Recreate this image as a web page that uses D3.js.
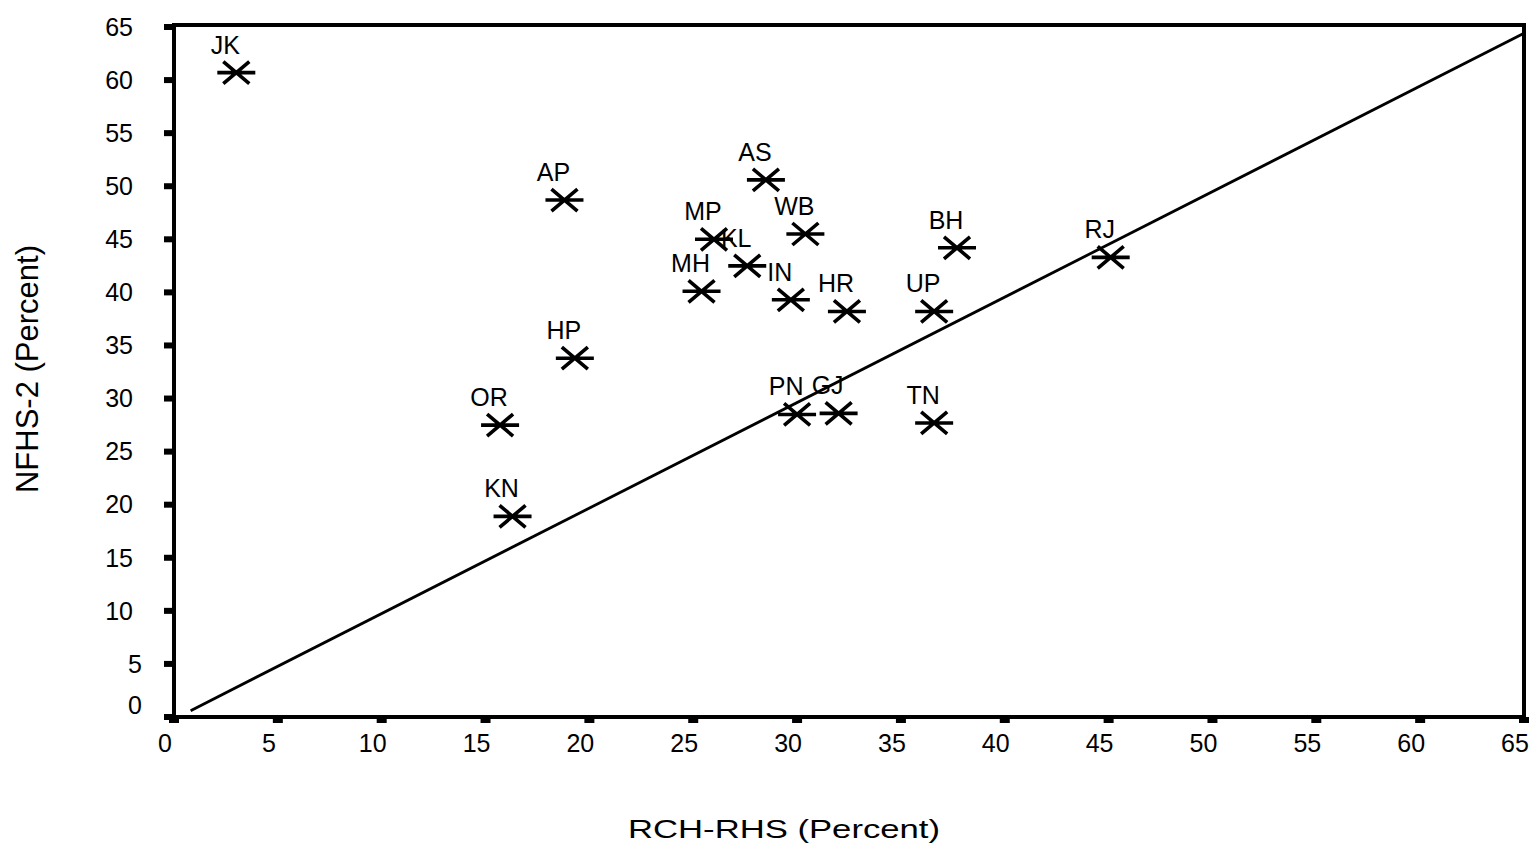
<!DOCTYPE html>
<html>
<head>
<meta charset="utf-8">
<script src="https://cdn.jsdelivr.net/npm/d3@7"></script>
<style>
  html, body { margin: 0; padding: 0; background: #fff; }
  svg { display: block; font-family: Arial, "Liberation Sans", sans-serif; }
</style>
</head>
<body>
<svg id="chart" width="1533" height="844"></svg>
<script>
const WIDTH = 1533;
const HEIGHT = 844;

// state codes and their values (RCH-RHS on x, NFHS-2 on y)
const states = ["JK", "AP", "AS", "MP", "KL", "MH", "WB", "IN", "HR", "UP", "BH", "RJ", "HP", "OR", "KN", "PN", "GJ", "TN"];
const rchValues = [3.0, 18.8, 28.5, 26.0, 27.6, 25.4, 30.4, 29.7, 32.4, 36.6, 37.7, 45.1, 19.3, 15.7, 16.3, 30.0, 32.0, 36.6];
const nfhsValues = [60.7, 48.7, 50.6, 45.0, 42.5, 40.1, 45.5, 39.3, 38.2, 38.2, 44.2, 43.3, 33.8, 27.5, 18.9, 28.5, 28.6, 27.7];

const xTicks = [0, 5, 10, 15, 20, 25, 30, 35, 40, 45, 50, 55, 60, 65];
const yTicks = [0, 5, 10, 15, 20, 25, 30, 35, 40, 45, 50, 55, 60, 65];

// reference line (roughly y = x)
const lineX = [0.8, 65];
const lineY = [0.6, 64.4];

const margin = { left: 174, right: 9, top: 27, bottom: 127 };

const x = d3.scaleLinear().domain([0, 65]).range([margin.left, WIDTH - margin.right]);
const y = d3.scaleLinear().domain([0, 65]).range([HEIGHT - margin.bottom, margin.top]);

const svg = d3.select("#chart");

// frame
const x0 = x(0), x1 = x(65), y0 = y(0), y1 = y(65);
svg.append("rect")
  .attr("x", x0).attr("y", y1 - 2)
  .attr("width", x1 - x0).attr("height", y0 - y1 + 2)
  .attr("fill", "none").attr("stroke", "#000").attr("stroke-width", 4);

// y axis ticks (small blocks) and labels
const yAxis = svg.append("g").attr("class", "y-axis");
yAxis.selectAll("rect")
  .data(yTicks)
  .join("rect")
  .attr("x", x0 - 10).attr("y", d => y(d) - 3)
  .attr("width", 10).attr("height", 6)
  .attr("fill", "#000");
yAxis.selectAll("text")
  .data(yTicks)
  .join("text")
  .attr("x", d => d < 10 ? x0 - 32 : x0 - 41)
  .attr("y", d => y(d) + (d === 0 ? -12 : 0))
  .attr("dy", "0.35em")
  .attr("text-anchor", "end")
  .attr("font-size", 25)
  .text(d => d);

// x axis ticks and labels
const xAxis = svg.append("g").attr("class", "x-axis");
xAxis.selectAll("rect")
  .data(xTicks)
  .join("rect")
  .attr("x", d => x(d) - 5).attr("y", y0)
  .attr("width", 10).attr("height", 6)
  .attr("fill", "#000");
xAxis.selectAll("text")
  .data(xTicks)
  .join("text")
  .attr("x", d => x(d) - 9)
  .attr("y", y0 + 35)
  .attr("text-anchor", "middle")
  .attr("font-size", 25)
  .text(d => d);

// axis titles
svg.append("text")
  .attr("x", 784).attr("y", 838)
  .attr("text-anchor", "middle")
  .attr("font-size", 25)
  .attr("textLength", 312)
  .attr("lengthAdjust", "spacingAndGlyphs")
  .text("RCH-RHS (Percent)");

svg.append("text")
  .attr("transform", `translate(38, 369) rotate(-90)`)
  .attr("text-anchor", "middle")
  .attr("font-size", 31)
  .text("NFHS-2 (Percent)");

// diagonal line
svg.append("line")
  .attr("x1", x(lineX[0])).attr("y1", y(lineY[0]))
  .attr("x2", x(lineX[1])).attr("y2", y(lineY[1]))
  .attr("stroke", "#000").attr("stroke-width", 2.8);

// points as asterisks
const pts = states.map((s, i) => ({ code: s, rx: rchValues[i], ny: nfhsValues[i] }));

const marks = svg.append("g")
  .selectAll("g")
  .data(pts)
  .join("g")
  .attr("transform", d => `translate(${x(d.rx)},${y(d.ny)})`);

marks.append("path")
  .attr("d", "M-19,0H19M-13,-11L13,11M-13,11L13,-11")
  .attr("stroke", "#000").attr("stroke-width", 3.6)
  .attr("fill", "none");

marks.append("text")
  .attr("x", -11).attr("y", -19)
  .attr("text-anchor", "middle")
  .attr("font-size", 25)
  .text(d => d.code);
</script>
</body>
</html>
